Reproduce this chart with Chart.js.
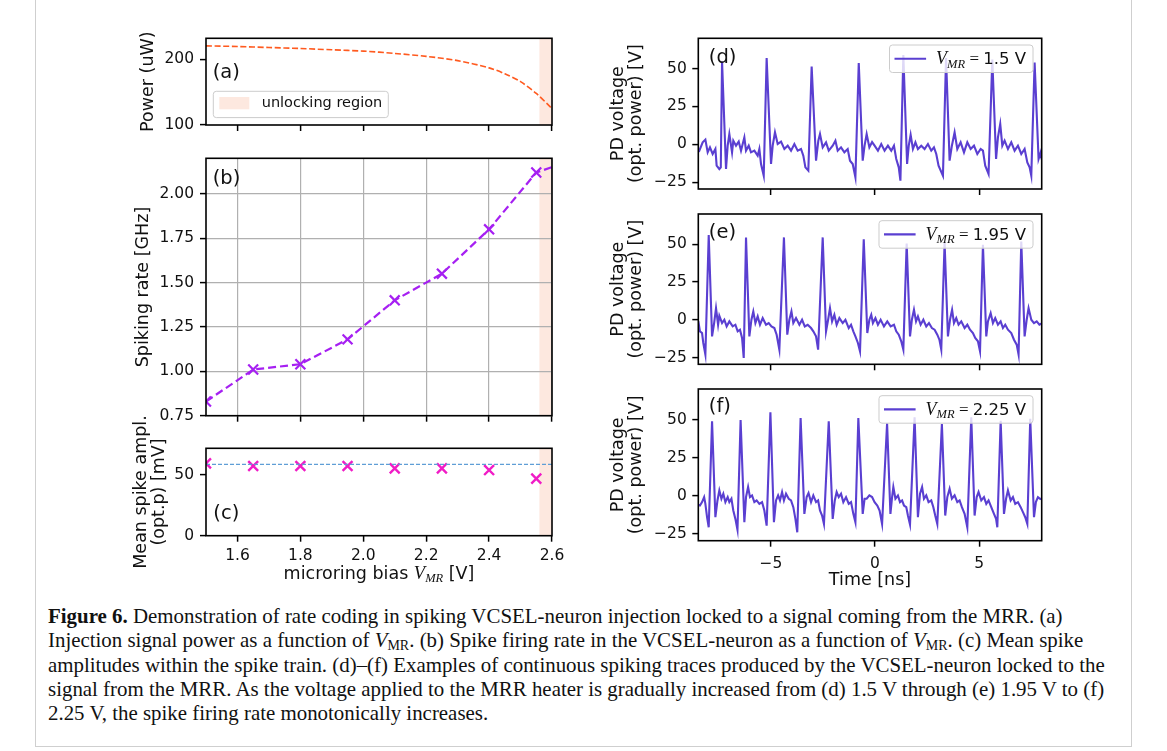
<!DOCTYPE html>
<html>
<head>
<meta charset="utf-8">
<script src="https://cdn.jsdelivr.net/npm/chart.js@4.4.1/dist/chart.umd.min.js"></script>
<style>
html,body{margin:0;padding:0;background:#fff;}
#fig{position:relative;width:1167px;height:751px;overflow:hidden;background:#fff;}
canvas{position:absolute;}
#frame{position:absolute;left:35px;top:-2px;width:1097px;height:749px;border:1px solid #cfcfcf;box-sizing:border-box;}
#caption{position:absolute;left:48px;top:604px;font-family:"Liberation Serif","DejaVu Serif",serif;font-size:20.9px;line-height:24.3px;color:#111;white-space:nowrap;}
#caption sub{font-size:14px;vertical-align:-3px;line-height:0;}
</style>
</head>
<body>
<div id="fig">
  <div id="frame"></div>
  <canvas id="cA" width="590" height="200" style="left:0;top:0"></canvas>
  <canvas id="cB" width="590" height="320" style="left:0;top:120px"></canvas>
  <canvas id="cC" width="590" height="200" style="left:0;top:400px"></canvas>
  <canvas id="cD" width="587" height="210" style="left:580px;top:0"></canvas>
  <canvas id="cE" width="587" height="200" style="left:580px;top:180px"></canvas>
  <canvas id="cF" width="587" height="240" style="left:580px;top:360px"></canvas>
  <div id="caption"><b>Figure 6.</b> Demonstration of rate coding in spiking VCSEL-neuron injection locked to a signal coming from the MRR. (a)<br>Injection signal power as a function of <i>V</i><sub>MR</sub>. (b) Spike firing rate in the VCSEL-neuron as a function of <i>V</i><sub>MR</sub>. (c) Mean spike<br>amplitudes within the spike train. (d)–(f) Examples of continuous spiking traces produced by the VCSEL-neuron locked to the<br>signal from the MRR. As the voltage applied to the MRR heater is gradually increased from (d) 1.5 V through (e) 1.95 V to (f)<br>2.25 V, the spike firing rate monotonically increases.</div>
</div>
<script>
// ---------------- data ----------------
const biasRange = [1.5, 2.6];
const biasTicks = [1.6, 1.8, 2.0, 2.2, 2.4, 2.6];
const unlockRegion = [2.56, 2.6];

const powerBias   = [1.5, 1.6, 1.7, 1.8, 1.9, 2.0, 2.1, 2.2, 2.3, 2.4, 2.45, 2.5, 2.55, 2.6];
const powerValues = [220.5, 219.5, 218, 216.5, 214.5, 212.5, 209, 204.5, 198, 187, 178, 166, 148, 125];
const powerTicks  = [100, 200];

const vmrBias      = [1.5, 1.65, 1.8, 1.95, 2.1, 2.25, 2.4, 2.55];
const spikingRate  = [0.83, 1.01, 1.04, 1.18, 1.40, 1.55, 1.80, 2.12];
const rateTail     = [2.6, 2.15];
const rateTicks    = [0.75, 1.00, 1.25, 1.50, 1.75, 2.00];

const spikeAmplitude = [59.6, 57.4, 57.4, 57.4, 55.5, 55.5, 54.1, 47.0];
const meanAmplitude  = 58.8;
const amplTicks      = [0, 50];

const timeRange = [-8.48, 8.0];
const timeTicks = [-5, 0, 5];
const voltTicks = [-25, 0, 25, 50];
const traceLabels = ['1.5', '1.95', '2.25'];

const traceD = [[-8.48,-3.5],[-8.43,-4.2],[-8.27,1.3],[-8.14,3.1],[-8.03,-5.3],[-7.92,-2.0],[-7.79,-6.4],[-7.66,-3.1],[-7.60,-14.1],[-7.47,-16.3],[-7.40,-15.2],[-7.34,54.7],[-7.15,-16.3],[-7.07,-0.9],[-6.99,6.8],[-6.86,-5.3],[-6.80,2.4],[-6.67,-0.9],[-6.54,1.8],[-6.43,-4.2],[-6.27,4.6],[-6.19,-4.2],[-6.06,-0.9],[-5.95,-5.3],[-5.79,-4.2],[-5.63,-7.5],[-5.55,-3.1],[-5.47,-13.0],[-5.34,-20.7],[-5.20,57.0],[-4.99,-13.0],[-4.91,-0.9],[-4.80,7.9],[-4.67,0.2],[-4.51,1.8],[-4.35,-3.1],[-4.19,-0.9],[-4.03,-4.2],[-3.87,0.2],[-3.71,-4.2],[-3.55,-3.1],[-3.44,-7.5],[-3.34,-15.2],[-3.20,-17.4],[-3.04,51.4],[-2.83,-10.8],[-2.72,2.4],[-2.64,6.8],[-2.51,-2.0],[-2.35,1.3],[-2.22,-4.2],[-2.03,-0.9],[-1.90,2.4],[-1.79,-4.2],[-1.63,-2.0],[-1.47,-5.3],[-1.31,-3.1],[-1.20,-10.8],[-1.07,-13.0],[-0.94,-21.8],[-0.78,53.7],[-0.59,-10.8],[-0.50,-0.9],[-0.40,6.8],[-0.27,-2.0],[-0.14,1.5],[-0.02,-0.9],[0.14,-4.2],[0.30,0.2],[0.46,-4.2],[0.62,-0.9],[0.78,-4.2],[0.91,-0.9],[1.02,-9.7],[1.14,-15.2],[1.22,-24.0],[1.36,59.0],[1.54,-13.0],[1.62,-0.9],[1.71,6.2],[1.82,-3.1],[1.94,1.3],[2.06,-3.1],[2.22,-0.9],[2.38,-3.1],[2.54,0.2],[2.70,-4.2],[2.83,-2.0],[2.94,-6.4],[3.05,-14.1],[3.26,-20.7],[3.41,57.0],[3.58,-10.8],[3.69,-0.9],[3.82,7.9],[3.95,-3.1],[4.11,1.3],[4.27,-5.3],[4.43,1.3],[4.59,-3.1],[4.75,-0.9],[4.91,-6.4],[5.07,-3.1],[5.18,-4.2],[5.29,-14.1],[5.45,-19.6],[5.63,56.0],[5.81,-9.7],[5.90,4.6],[6.01,13.4],[6.11,-0.9],[6.22,2.4],[6.38,-3.1],[6.54,1.3],[6.70,-4.2],[6.86,-0.9],[7.02,-6.4],[7.18,-3.1],[7.31,-11.9],[7.42,-15.2],[7.50,-20.7],[7.66,54.0],[7.85,-9.7],[7.95,-5.3],[8.00,-10.0]];

const traceE = [[-8.48,-1.0],[-8.40,-7.7],[-8.30,-8.8],[-8.24,-15.4],[-8.14,-23.1],[-7.98,56.0],[-7.82,-11.0],[-7.72,-2.2],[-7.63,7.7],[-7.53,-3.3],[-7.47,2.6],[-7.34,-2.2],[-7.23,0.0],[-7.12,-4.4],[-6.99,-1.1],[-6.83,-4.4],[-6.70,-3.3],[-6.59,-7.7],[-6.48,-6.6],[-6.38,-12.1],[-6.30,-25.3],[-6.19,54.5],[-6.03,-11.0],[-5.93,0.0],[-5.84,5.5],[-5.74,-2.2],[-5.63,2.2],[-5.52,-3.3],[-5.39,1.1],[-5.23,-3.3],[-5.10,-2.2],[-4.97,-4.4],[-4.83,-5.5],[-4.72,-9.9],[-4.59,-19.8],[-4.37,54.5],[-4.21,-9.9],[-4.11,0.0],[-4.01,5.5],[-3.92,-2.2],[-3.79,1.1],[-3.63,-3.3],[-3.50,0.0],[-3.37,-4.4],[-3.23,-3.3],[-3.07,-5.5],[-2.96,-7.7],[-2.83,-11.0],[-2.73,-19.8],[-2.51,54.5],[-2.35,-7.7],[-2.25,0.0],[-2.16,7.7],[-2.06,-1.1],[-1.95,3.3],[-1.84,-3.3],[-1.71,1.1],[-1.55,-2.2],[-1.42,0.0],[-1.26,-5.5],[-1.15,-3.3],[-1.04,-7.7],[-0.94,-11.0],[-0.82,-15.4],[-0.72,-20.9],[-0.54,53.2],[-0.37,-8.8],[-0.27,0.0],[-0.18,3.3],[-0.10,-2.2],[0.02,1.1],[0.14,-3.3],[0.27,0.0],[0.43,-4.4],[0.59,-1.1],[0.75,-4.4],[0.91,-3.3],[1.02,-7.7],[1.14,-9.9],[1.26,-14.3],[1.36,-19.8],[1.52,50.5],[1.68,-11.0],[1.77,0.0],[1.87,6.6],[1.97,-1.1],[2.06,2.2],[2.19,-3.3],[2.32,0.0],[2.46,-4.4],[2.59,-2.2],[2.73,-5.5],[2.86,-6.6],[2.99,-9.9],[3.09,-13.2],[3.18,-19.8],[3.34,51.0],[3.50,-11.0],[3.60,0.0],[3.70,6.6],[3.79,-2.2],[3.90,1.1],[4.01,-3.3],[4.14,-1.1],[4.30,-5.5],[4.43,-3.3],[4.56,-6.6],[4.70,-8.8],[4.81,-12.1],[4.94,-14.3],[5.04,-20.9],[5.18,49.6],[5.34,-11.0],[5.42,-1.1],[5.55,4.4],[5.66,-2.2],[5.77,1.1],[5.90,-3.3],[6.03,-1.1],[6.14,-5.5],[6.25,-3.3],[6.38,-6.6],[6.54,-8.8],[6.67,-13.2],[6.80,-16.5],[6.89,-23.1],[7.02,51.7],[7.18,-11.0],[7.28,0.0],[7.37,7.7],[7.50,0.0],[7.63,-2.2],[7.76,-1.1],[7.89,-3.3],[8.00,-2.5]];

const traceF = [[-8.48,-6.0],[-8.40,-6.4],[-8.30,-4.2],[-8.20,-0.9],[-8.14,-5.3],[-8.06,-14.1],[-7.98,-20.7],[-7.82,48.8],[-7.66,-14.1],[-7.56,-3.1],[-7.47,3.5],[-7.37,-2.0],[-7.28,1.3],[-7.18,-4.2],[-7.07,-0.9],[-6.99,-4.2],[-6.89,-2.0],[-6.80,-9.7],[-6.70,-15.2],[-6.60,-22.4],[-6.45,49.7],[-6.27,-17.4],[-6.19,-0.9],[-6.09,5.7],[-6.00,-0.9],[-5.90,0.2],[-5.79,-4.2],[-5.68,-3.1],[-5.55,-5.3],[-5.42,-4.2],[-5.31,-9.7],[-5.20,-19.6],[-5.02,54.7],[-4.85,-17.4],[-4.75,-3.1],[-4.65,0.2],[-4.56,-3.1],[-4.46,2.4],[-4.37,-3.1],[-4.27,1.3],[-4.14,-2.0],[-4.03,-3.1],[-3.92,-7.5],[-3.82,-15.2],[-3.73,-24.0],[-3.57,51.0],[-3.39,-11.9],[-3.28,-0.9],[-3.19,1.8],[-3.07,-4.2],[-2.96,0.2],[-2.83,-4.2],[-2.73,-3.1],[-2.64,-9.7],[-2.54,-13.0],[-2.45,-18.5],[-2.22,48.8],[-2.03,-15.2],[-1.93,-3.1],[-1.84,2.4],[-1.74,-0.9],[-1.63,1.3],[-1.52,-4.2],[-1.39,-0.9],[-1.26,-5.3],[-1.15,-4.2],[-1.04,-11.9],[-0.94,-17.4],[-0.80,51.0],[-0.59,-11.9],[-0.50,-2.0],[-0.40,-2.0],[-0.27,0.2],[-0.14,-0.9],[-0.02,-4.2],[0.11,-6.4],[0.22,-9.7],[0.34,-18.5],[0.58,47.5],[0.74,-11.9],[0.82,-0.9],[0.88,5.7],[0.98,-2.0],[1.10,0.2],[1.20,-4.2],[1.30,-3.1],[1.39,-6.4],[1.50,-7.5],[1.58,-13.0],[1.68,-18.9],[1.90,51.4],[2.06,-14.1],[2.16,1.3],[2.26,5.7],[2.35,-2.0],[2.46,0.2],[2.57,-4.2],[2.70,-3.1],[2.80,-7.5],[2.89,-13.0],[2.99,-18.5],[3.21,47.0],[3.37,-13.0],[3.47,-0.9],[3.58,4.6],[3.69,-2.0],[3.82,0.2],[3.95,-4.2],[4.06,-3.1],[4.17,-7.5],[4.30,-11.9],[4.43,-20.7],[4.62,51.4],[4.78,-13.0],[4.88,-0.9],[4.97,2.4],[5.10,-3.1],[5.23,-0.9],[5.34,-5.3],[5.45,-3.1],[5.58,-7.5],[5.71,-11.9],[5.81,-15.2],[5.87,-20.7],[6.03,49.2],[6.19,-11.9],[6.29,-2.0],[6.38,3.5],[6.51,-3.1],[6.62,-0.9],[6.73,-5.3],[6.86,-4.2],[6.99,-7.5],[7.10,-10.8],[7.21,-14.1],[7.31,-18.5],[7.45,50.4],[7.63,-14.1],[7.72,-4.2],[7.82,-0.9],[7.92,-2.0],[8.00,-2.4]];

// ---------------- styling ----------------
const INK = '#111';
const C_POWER = '#ff5a1f';
const C_RATE = '#a620f2';
const C_AMP = '#f01cc6';
const C_MEAN = '#5f9ed6';
const C_TRACE = '#5a3fd1';
const C_REGION = '#fde8df';
const SANS = '"DejaVu Sans", sans-serif';
const SERIF = '"Liberation Serif", "DejaVu Serif", serif';

Chart.defaults.font.family = SANS;
Chart.defaults.font.size = 15.5;
Chart.defaults.color = INK;

function fmt(d) { return v => (d === 0 ? String(Math.round(v)) : Number(v).toFixed(d)).replace('-', '\u2212'); }
const pts = (xs, ys) => xs.map((x, i) => ({x, y: ys[i]}));
const pairPts = arr => arr.map(p => ({x: p[0], y: p[1]}));

function scale(o) {
  return {
    type: 'linear', position: o.pos, min: o.min, max: o.max,
    afterBuildTicks: s => { s.ticks = o.ticks.map(v => ({value: v})); },
    afterFit: s => { if (o.pos === 'left') s.width = o.size; else s.height = o.size; },
    ticks: {display: o.labels !== false, padding: o.pad, color: INK, font: {size: 15.5},
            maxRotation: 0, minRotation: 0, autoSkip: false, callback: o.fmt},
    grid: {display: true, drawOnChartArea: !!o.grid, color: '#b0b0b0', lineWidth: 1.2,
           drawTicks: true, tickLength: 6, tickColor: '#000', tickWidth: 1.5},
    border: {display: false},
    title: o.title ? {display: true, text: o.title, color: INK, font: {size: 17.5, lineHeight: 18.6 / 17.5}, padding: 0}
                   : {display: false}
  };
}

function drawRich(ctx, segs, x, y, align) {
  let w = 0;
  segs.forEach(s => { ctx.font = s.f; s.w = ctx.measureText(s.t).width; w += s.w; });
  let cx = align === 'center' ? x - w / 2 : x;
  ctx.textBaseline = 'alphabetic'; ctx.textAlign = 'left';
  segs.forEach(s => { ctx.font = s.f; ctx.fillText(s.t, cx, y + (s.dy || 0)); cx += s.w; });
  return w;
}
function measureRich(ctx, segs) {
  let w = 0; segs.forEach(s => { ctx.font = s.f; w += ctx.measureText(s.t).width; }); return w;
}
function roundRect(ctx, x, y, w, h, r) {
  ctx.beginPath(); ctx.moveTo(x + r, y);
  ctx.arcTo(x + w, y, x + w, y + h, r); ctx.arcTo(x + w, y + h, x, y + h, r);
  ctx.arcTo(x, y + h, x, y, r); ctx.arcTo(x, y, x + w, y, r); ctx.closePath();
}
function vmrSegs(value) {
  return [
    {t: 'V', f: 'italic 18px ' + SERIF},
    {t: 'MR', f: 'italic 12.5px ' + SERIF, dy: 3.5},
    {t: ' = ', f: '17px ' + SERIF},
    {t: value + ' V', f: '16.5px ' + SANS}
  ];
}

function deco(cfg) {
  return {
    id: 'deco',
    beforeDraw(c) {
      if (!cfg.region) return;
      const a = c.chartArea, ctx = c.ctx, xs = c.scales.x;
      const x1 = xs.getPixelForValue(unlockRegion[0]), x2 = xs.getPixelForValue(unlockRegion[1]);
      ctx.save(); ctx.fillStyle = C_REGION; ctx.fillRect(x1, a.top, x2 - x1, a.bottom - a.top); ctx.restore();
    },
    afterDatasetsDraw(c) {
      const a = c.chartArea, ctx = c.ctx;
      ctx.save();
      ctx.strokeStyle = '#000'; ctx.lineWidth = 1.6;
      ctx.strokeRect(a.left, a.top, a.right - a.left, a.bottom - a.top);
      // panel letter
      ctx.fillStyle = INK; ctx.font = '19.5px ' + SANS; ctx.textBaseline = 'middle'; ctx.textAlign = 'left';
      ctx.fillText(cfg.letter, a.left + cfg.lx, a.top + cfg.ly);
      if (cfg.regionLegend) {
        const bx = a.left + 7.3, by = a.top + 53, bw = 175, bh = 26.3;
        roundRect(ctx, bx, by, bw, bh, 3);
        ctx.fillStyle = 'rgba(255,255,255,0.8)'; ctx.fill();
        ctx.strokeStyle = '#cccccc'; ctx.lineWidth = 1; ctx.stroke();
        ctx.fillStyle = C_REGION; ctx.fillRect(bx + 6, by + 5.7, 30, 12.3);
        ctx.fillStyle = INK; ctx.font = '14.5px ' + SANS; ctx.textBaseline = 'middle';
        ctx.fillText('unlocking region', bx + 48.4, by + 12);
      }
      if (cfg.traceLegend) {
        const segs = vmrSegs(cfg.traceLegend);
        const tw = measureRich(ctx, segs);
        const bh = 27.5, bw = 5 + 31.6 + 10 + tw + 7;
        const bx = a.right - 8.7 - bw, by = a.top + 6.7;
        roundRect(ctx, bx, by, bw, bh, 3);
        ctx.fillStyle = 'rgba(255,255,255,0.8)'; ctx.fill();
        ctx.strokeStyle = '#cccccc'; ctx.lineWidth = 1; ctx.stroke();
        ctx.strokeStyle = C_TRACE; ctx.lineWidth = 2.2;
        ctx.beginPath(); ctx.moveTo(bx + 5, by + bh / 2); ctx.lineTo(bx + 36.6, by + bh / 2); ctx.stroke();
        ctx.fillStyle = INK;
        drawRich(ctx, segs, bx + 46.6, by + bh / 2 + 5.5, 'left');
      }
      if (cfg.biasTitle) {
        ctx.fillStyle = INK;
        drawRich(ctx, [
          {t: 'microring bias ', f: '17.5px ' + SANS},
          {t: 'V', f: 'italic 18.5px ' + SERIF},
          {t: 'MR', f: 'italic 12.5px ' + SERIF, dy: 3.5},
          {t: ' [V]', f: '17.5px ' + SANS}
        ], (a.left + a.right) / 2, a.bottom + 43, 'center');
      }
      ctx.restore();
    }
  };
}

function makeChart(id, datasets, xs, ys, pad, cfg) {
  return new Chart(document.getElementById(id), {
    type: 'line',
    data: {datasets},
    options: {
      responsive: false, animation: false, events: [],
      layout: {padding: pad},
      plugins: {legend: {display: false}, tooltip: {enabled: false}},
      scales: {x: xs, y: ys}
    },
    plugins: [deco(cfg)]
  });
}

// ---------------- (a) power ----------------
makeChart('cA', [
  {data: pts(powerBias, powerValues), borderColor: C_POWER, borderWidth: 1.6, borderDash: [6, 2.6], pointRadius: 0, tension: 0.3}
],
  scale({pos: 'bottom', min: biasRange[0], max: biasRange[1], ticks: biasTicks, labels: false, size: 10}),
  scale({pos: 'left', min: 100, max: 232, ticks: powerTicks, fmt: fmt(0), pad: 6, size: 67.3, title: 'Power (uW)'}),
  {left: 138.7, top: 38.3, right: 38, bottom: 65},
  {letter: '(a)', lx: 6.7, ly: 34.5, region: true, regionLegend: true});

// ---------------- (b) spiking rate ----------------
makeChart('cB', [
  {data: pts(vmrBias, spikingRate).concat([{x: rateTail[0], y: rateTail[1]}]), borderColor: C_RATE, borderWidth: 2.2, borderDash: [8, 4], pointRadius: 0, tension: 0},
  {type: 'scatter', data: pts(vmrBias, spikingRate), showLine: false, pointStyle: 'crossRot', pointRadius: 7, borderWidth: 2.2, borderColor: C_RATE, backgroundColor: C_RATE, clip: 0}
],
  scale({pos: 'bottom', min: biasRange[0], max: biasRange[1], ticks: biasTicks, labels: false, grid: true, size: 10}),
  scale({pos: 'left', min: 0.75, max: 2.2, ticks: rateTicks, fmt: fmt(2), pad: 6, grid: true, size: 71.6, title: 'Spiking rate [GHz]'}),
  {left: 134.4, top: 38.3, right: 38, bottom: 14.3},
  {letter: '(b)', lx: 6.7, ly: 20.5, region: true});

// ---------------- (c) amplitude ----------------
makeChart('cC', [
  {data: pts(biasRange, biasRange.map(() => meanAmplitude)), borderColor: C_MEAN, borderWidth: 1.3, borderDash: [4, 2], pointRadius: 0, tension: 0},
  {type: 'scatter', data: pts(vmrBias, spikeAmplitude), showLine: false, pointStyle: 'crossRot', pointRadius: 7, borderWidth: 2.4, borderColor: C_AMP, backgroundColor: C_AMP, clip: 0}
],
  scale({pos: 'bottom', min: biasRange[0], max: biasRange[1], ticks: biasTicks, fmt: fmt(1), pad: 5, size: 30}),
  scale({pos: 'left', min: 0, max: 72, ticks: amplTicks, fmt: fmt(0), pad: 6, size: 74.1, title: ['Mean spike ampl.', '(opt.p) [mV]']}),
  {left: 131.9, top: 48.3, right: 38, bottom: 34.3},
  {letter: '(c)', lx: 7.3, ly: 66, region: true, biasTitle: true});

// ---------------- (d)-(f) traces ----------------
const traceYTitle = ['PD voltage', '(opt. power) [V]'];
function traceChart(id, trace, label, letter, ly, pad, last) {
  makeChart(id, [
    {data: pairPts(trace), borderColor: C_TRACE, borderWidth: 2.1, pointRadius: 0, tension: 0}
  ],
    scale({pos: 'bottom', min: timeRange[0], max: timeRange[1], ticks: timeTicks, labels: !!last, fmt: fmt(0), pad: 8,
           size: last ? 49.3 : 10, title: last ? 'Time [ns]' : null}),
    scale({pos: 'left', min: -29.5, max: 70, ticks: voltTicks, fmt: fmt(0), pad: 5.5, size: 89.6, title: traceYTitle}),
    pad,
    {letter, lx: 10.5, ly, traceLegend: label});
}
traceChart('cD', traceD, traceLabels[0], '(d)', 20, {left: 28.7, top: 38.3, right: 125.3, bottom: 11});
traceChart('cE', traceE, traceLabels[1], '(e)', 19, {left: 28.7, top: 34, right: 125.3, bottom: 5.7});
traceChart('cF', traceF, traceLabels[2], '(f)', 17.7, {left: 28.7, top: 29, right: 125.3, bottom: 10}, true);
</script>
</body>
</html>
